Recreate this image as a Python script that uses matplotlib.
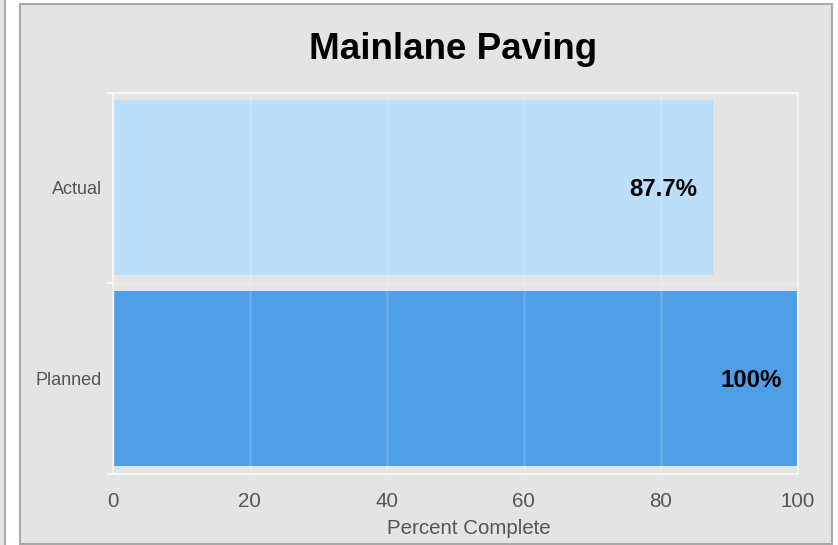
import matplotlib.pyplot as plt
from matplotlib.patches import Rectangle

# ---- data ----
categories = ['Actual', 'Planned']
values = [87.7, 100]
value_labels = ['87.7%', '100%']
bar_colors = ['#bbdefb', '#509ee7']
xticks = [0, 20, 40, 60, 80, 100]

# ---- settings ----
W, H = 838, 545
DPI = 100
PANEL_BG = '#e4e4e4'
PANEL_EDGE = '#a9a9a9'
FRAME = '#f3f3f3'
TICK_GREY = '#555555'

plt.rcParams['font.family'] = ['Liberation Sans', 'DejaVu Sans']


def px_x(x):
    return x / W


def px_y(y):
    return 1 - y / H


fig = plt.figure(figsize=(W / DPI, H / DPI), dpi=DPI)
fig.patch.set_facecolor('white')

# neighbouring panel edge at far left
fig.patches.append(Rectangle((px_x(-20), px_y(560)), px_x(24.5), 1.2,
                             transform=fig.transFigure, facecolor=PANEL_BG,
                             edgecolor=PANEL_EDGE, lw=1.5, zorder=-2))
# main panel box
fig.patches.append(Rectangle((px_x(20), px_y(543.5)), px_x(811.5), 539.5 / H,
                             transform=fig.transFigure, facecolor=PANEL_BG,
                             edgecolor=PANEL_EDGE, lw=1.5, zorder=-2))

left, right, top, bottom = 113, 797.5, 92.5, 473.5
ax = fig.add_axes([px_x(left), px_y(bottom), (right - left) / W, (bottom - top) / H])
ax.set_facecolor('none')

y = list(range(len(categories)))
ax.barh(y, values, height=0.92, color=bar_colors, zorder=2)

for yi, v, lab in zip(y, values, value_labels):
    ax.annotate(lab, xy=(v, yi), xytext=(-11.5, -1.5), textcoords='offset points',
                ha='right', va='center', fontsize=17.3, fontweight='bold',
                color='black', zorder=4)

ax.set_xlim(0, 100)
ax.set_ylim(-0.5, len(categories) - 0.5)
ax.invert_yaxis()

ax.set_xticks(xticks)
ax.set_xticklabels([str(t) for t in xticks])
ax.tick_params(axis='x', length=0, pad=13, labelsize=14.8, labelcolor=TICK_GREY)

ax.set_yticks(y)
ax.set_yticklabels(categories)
ax.set_yticks([-0.5, 0.5, 1.5], minor=True)
ax.tick_params(axis='y', which='major', length=0, pad=8, labelsize=13, labelcolor=TICK_GREY)
ax.tick_params(axis='y', which='minor', length=4.5, width=1.5, color=FRAME)

ax.grid(axis='x', which='major', color='white', alpha=0.12, lw=2.2, zorder=3)
ax.grid(axis='y', which='minor', color='white', alpha=0.18, lw=2.2, zorder=3)
ax.set_axisbelow(False)

for s in ax.spines.values():
    s.set_color(FRAME)
    s.set_linewidth(1.5)

ax.set_xlabel('Percent Complete', fontsize=14.8, color=TICK_GREY, labelpad=6)
ax.xaxis.label.set_x((469 - left) / (right - left))

fig.text(px_x(453), px_y(59.3), 'Mainlane Paving', ha='center', va='baseline',
         fontsize=26.5, fontweight='bold', color='black')

fig.savefig('out.png', dpi=DPI)
